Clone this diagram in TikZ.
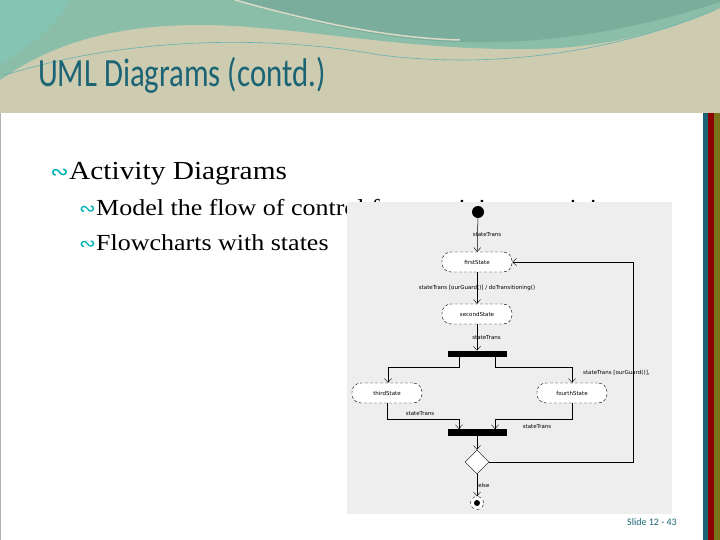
\documentclass[tikz,border=0pt]{standalone}
\usepackage{fontspec}
\setmainfont{Liberation Serif}[FakeStretch=1.13]
\newfontfamily\titlefont{Carlito}[FakeStretch=0.77]
\newfontfamily\footfont{Carlito}
\newfontfamily\dejafont{DejaVu Sans}
\usetikzlibrary{shapes.geometric,arrows.meta}
\definecolor{teal1}{HTML}{1B6475}
\definecolor{beige}{HTML}{CDCBB0}
\definecolor{wave}{HTML}{6FB9A6}
\definecolor{diagbg}{HTML}{EEEEEE}
\tikzset{
  statebox/.style={draw,dashed,dash pattern=on 3pt off 2pt,fill=white,rounded corners=9pt,minimum width=70pt,minimum height=20pt,inner sep=0pt,font=\dejafont\fontsize{5.5}{6}\selectfont},
  lbl/.style={font=\dejafont\fontsize{5.5}{6}\selectfont,inner sep=1pt},
  bar/.style={fill=black,minimum width=59pt,minimum height=6.5pt,inner sep=0pt},
  flow/.style={draw,line width=0.5pt,-{Straight Barb[length=4pt,width=7pt,line width=0.4pt]}},
  bul/.style={text=teal!60!cyan,anchor=base east,inner sep=0pt},
  body/.style={anchor=base west,inner sep=0pt}
}
\begin{document}
\begin{tikzpicture}[x=1pt,y=-1pt]
\useasboundingbox (0,0) rectangle (720,540);
\fill[white] (0,0) rectangle (720,540);
% header
\fill[beige] (0,0) rectangle (720,113);
\fill[wave!70!beige] (0,0) -- (0,80) .. controls (50,45) and (110,25) .. (200,25) .. controls (300,25) and (420,55) .. (560,48) .. controls (640,42) and (690,20) .. (720,8) -- (720,0) -- cycle;
\fill[teal!40!beige] (235,0) .. controls (300,20) and (380,40) .. (460,42) .. controls (560,45) and (650,25) .. (720,2) -- (720,0) -- cycle;
\fill[wave!85!white] (0,0) -- (0,65) .. controls (40,40) and (60,20) .. (70,0) -- cycle;
\draw[teal!60,line width=0.6pt] (5,75) .. controls (150,30) and (300,40) .. (380,55) .. controls (500,70) and (620,50) .. (715,10);
\draw[beige!70!white,line width=1.5pt] (235,0) .. controls (300,18) and (380,38) .. (460,40);
\node[anchor=base west,inner sep=0pt,text=teal1,font=\titlefont\fontsize{40}{46}\selectfont] (title) at (38,87) {UML Diagrams (contd.)};
% right stripes
\fill[teal1] (703,113) rectangle (708,540);
\fill[red!55!black] (708,113) rectangle (714,540);
\fill[olive!80!black] (714,113) rectangle (720,540);
\draw[gray!60] (0.5,113) -- (0.5,540);
% text
\node[body,font=\fontsize{26}{30}\selectfont] (b1) at (69,180) {Activity Diagrams};
\node[bul,font=\dejafont\fontsize{22}{24}\selectfont] at (b1.base west) {∾};
\node[body,font=\fontsize{23}{27}\selectfont] (b2) at (96,215) {Model the flow of control from activity to activity};
\node[bul,font=\dejafont\fontsize{20}{22}\selectfont] at (b2.base west) {∾};
\node[body,font=\fontsize{23}{27}\selectfont] (b3) at (96,250) {Flowcharts with states};
\node[bul,font=\dejafont\fontsize{20}{22}\selectfont] at (b3.base west) {∾};
% diagram
\fill[diagbg] (347,202) rectangle (672,514);
\node[circle,fill=black,minimum size=12pt,inner sep=0pt] (start) at (478,212) {};
\node[statebox] (s1) at (477,262) {firstState};
\node[statebox] (s2) at (477,314) {secondState};
\node[bar] (fork) at (477,354) {};
\node[statebox] (s3) at (387,393) {thirdState};
\node[statebox] (s4) at (572,393) {fourthState};
\node[bar] (join) at (477,432.5) {};
\node[diamond,draw,fill=white,minimum size=24pt,inner sep=0pt] (dec) at (477,462) {};
\node[circle,draw,dashed,fill=white,minimum size=13pt,inner sep=0pt] (end) at (477,503) {};
\node[circle,fill=black,minimum size=6pt,inner sep=0pt] at (end) {};
\draw[flow] (start) -- (s1) node[lbl,midway,right=-6pt] {stateTrans};
\draw[flow] (s1) -- (s2) node[lbl,midway] {stateTrans [ourGuard()] / doTransitioning()};
\draw[flow] (s2) -- (fork) node[lbl,midway,right=-6pt] {stateTrans};
\coordinate (f1) at (459,354);
\coordinate (f2) at (495,354);
\draw[flow] (f1) |- (388,367) -- (s3.north -| 388,0);
\draw[flow] (f2) |- (572,367) -- (s4);
\node[lbl,anchor=west] (l4) at (582,373) {stateTrans [ourGuard()],};
\draw[flow] (s3) |- (459,419) -- (join.north -| 459,0);
\draw[flow] (s4) |- (495,419) -- (join.north -| 495,0);
\node[lbl] (l5) at (420,414) {stateTrans};
\node[lbl] (l6) at (537,427) {stateTrans};
\draw[flow] (join) -- (dec);
\draw[flow] (dec.east) -- (633,462) |- (s1.east);
\draw[flow] (dec) -- (end) node[lbl,midway,right=0pt] {else};
% footer
\node[anchor=base west,inner sep=0pt,text=teal1,font=\footfont\fontsize{10}{12}\selectfont] (foot) at (627,525) {Slide 12 - 43};
\end{tikzpicture}
\end{document}
